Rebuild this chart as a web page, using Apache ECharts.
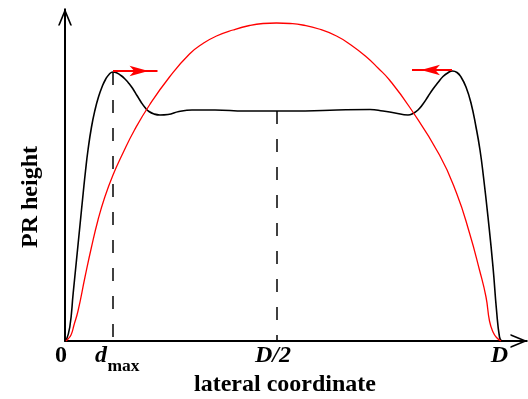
<!DOCTYPE html>
<html>
<head>
  <meta charset="utf-8">
  <title>PR height profile</title>
  <style type="text/css">
    html, body { margin: 0; padding: 0; background: #fff; }
    #main { width: 528px; height: 399px; }
  </style>
</head>
<body>
<div id="main"></div>
<script type="text/javascript" src="https://cdn.jsdelivr.net/npm/echarts@6/dist/echarts.min.js"></script>
<script type="text/javascript">
  // lateral coordinate (D = 434.5) and PR height
  var blackX = [1, 4.8, 8.2, 11.5, 14.8, 18.2, 20.5, 23, 26.5, 30, 33.5, 37, 40.5, 44, 48, 52, 56, 60, 64, 68, 72, 76, 80, 84, 89, 95, 103, 114, 127, 150, 180, 212, 240, 272, 305, 318, 330, 343, 348, 353, 358, 363, 368, 373, 378, 383, 387.5, 392, 396, 401, 406, 411, 415, 418.5, 423, 428, 431.5, 434.5, 436.5];
  var blackY = [0, 14, 48, 81, 114, 148, 170, 191, 214, 231, 244, 254, 261.5, 266.5, 269, 268, 265.5, 262, 257.5, 252, 245.5, 239, 233.5, 229.5, 227, 226, 226.5, 229.5, 231, 231, 230, 230, 230, 231, 231.5, 230, 228, 226, 227.5, 231, 237, 244.5, 252, 258.5, 264.5, 268.3, 270, 268.5, 264, 254, 238, 214, 191, 164, 124, 74, 31, 4, 0];

  var redX = [1, 3, 6, 9, 13, 20, 26.5, 33, 39.5, 48, 57.5, 69.5, 84.5, 104.5, 124.5, 138, 151.5, 168, 184.5, 198, 211.5, 225, 237.5, 254, 271.5, 286, 301.5, 313, 324.5, 344.5, 374.5, 391.5, 404.5, 414.5, 421, 424.5, 428, 431.5, 436];
  var redY = [0, 2, 6, 16, 30, 64, 94, 121, 143, 166, 187, 211, 236, 264, 287, 297.5, 305, 311, 315.5, 317.5, 318, 317.5, 316, 312, 305, 296, 284, 273, 261, 234, 186, 148, 108, 71, 44, 20, 9, 3.5, 0];

  var dmax = 48;
  var halfD = 212;
  var peakH = 269;
  var plateauH = 230;

  var tickValues = [0, 48, 212, 434.5];
  var tickLabels = ['{z|0}', '{d|d}', '{h|D/2}', '{e|D}'];

  // red arrows: [fromX, fromY, toX, toY]
  var arrowLeft = [48, 270, 92.5, 270];
  var arrowRight = [387, 271, 347, 271];

  function pairs(xs, ys) {
    var out = [];
    for (var i = 0; i < xs.length; i++) out.push([xs[i], ys[i]]);
    return out;
  }

  var serif = 'Liberation Serif';
  var chevron = 'path://M7,0 L14,17 L12.27,17 L7,4.2 L1.73,17 L0,17 Z M6,0 L8,0 L8,17 L6,17 Z';

  var myChart = echarts.init(document.getElementById('main'));

  var option = {
    backgroundColor: '#fff',
    animation: false,
    grid: { left: 65, right: 9, top: 17, bottom: 58, containLabel: false, outerBoundsMode: 'none' },
    xAxis: [
      {
        type: 'value',
        position: 'bottom',
        min: 0,
        max: 454,
        name: 'lateral coordinate',
        nameLocation: 'middle',
        nameGap: 30,
        nameTextStyle: {
          fontFamily: serif, fontWeight: 'bold', fontSize: 24, color: '#000',
          padding: [0, 14, 0, 0]
        },
        axisLine: {
          show: true,
          symbol: ['none', chevron],
          symbolSize: [14, 17],
          lineStyle: { color: '#000', width: 2 }
        },
        axisTick: { show: false },
        splitLine: { show: false },
        axisLabel: {
          customValues: tickValues,
          margin: 3,
          formatter: function (v) {
            var i = tickValues.indexOf(v);
            return i < 0 ? '' : tickLabels[i];
          },
          rich: {
            z: { fontFamily: serif, fontWeight: 'bold', fontSize: 24, color: '#000', padding: [0, 8, 0, 0] },
            d: { fontFamily: serif, fontWeight: 'bold', fontStyle: 'italic', fontSize: 24, color: '#000', padding: [0, 24, 0, 0] },
            h: { fontFamily: serif, fontWeight: 'bold', fontStyle: 'italic', fontSize: 24, color: '#000', padding: [0, 8, 0, 0] },
            e: { fontFamily: serif, fontWeight: 'bold', fontStyle: 'italic', fontSize: 24, color: '#000' }
          }
        }
      },
      {
        type: 'value',
        position: 'bottom',
        min: 0,
        max: 454,
        axisLine: { show: false },
        axisTick: { show: false },
        splitLine: { show: false },
        axisLabel: {
          customValues: [dmax],
          margin: 16,
          formatter: function () { return '{s|max}'; },
          rich: {
            s: { fontFamily: serif, fontWeight: 'bold', fontSize: 17.5, color: '#000', padding: [0, 0, 0, 21] }
          }
        }
      }
    ],
    yAxis: {
      type: 'value',
      min: 0,
      max: 324,
      name: 'PR height',
      nameLocation: 'middle',
      nameGap: 22,
      nameRotate: 90,
      nameTextStyle: {
        fontFamily: serif, fontWeight: 'bold', fontSize: 24, color: '#000',
        padding: [0, 36, 0, 0]
      },
      axisLine: {
        show: true,
        symbol: ['none', chevron],
        symbolSize: [14, 17],
        lineStyle: { color: '#000', width: 2 }
      },
      axisTick: { show: false },
      axisLabel: { show: false },
      splitLine: { show: false }
    },
    series: [
      {
        name: 'dmax line',
        type: 'line',
        data: [[dmax, peakH], [dmax, 0]],
        symbol: 'none',
        lineStyle: { color: '#000', width: 1.5, type: [13, 15] }
      },
      {
        name: 'half line',
        type: 'line',
        data: [[halfD, plateauH], [halfD, 0]],
        symbol: 'none',
        lineStyle: { color: '#000', width: 1.5, type: [13, 15] }
      },
      {
        name: 'PR profile',
        type: 'line',
        data: pairs(blackX, blackY),
        symbol: 'none',
        smooth: 0.5,
        lineStyle: { color: '#000', width: 1.6 }
      },
      {
        name: 'parabola',
        type: 'line',
        data: pairs(redX, redY),
        symbol: 'none',
        smooth: 0.5,
        lineStyle: { color: '#ff0000', width: 1.3 }
      },
      {
        name: 'arrow left',
        type: 'line',
        data: [[arrowLeft[0], arrowLeft[1]], [arrowLeft[2], arrowLeft[3]]],
        symbol: 'none',
        lineStyle: { color: '#ff0000', width: 2 }
      },
      {
        name: 'arrow right',
        type: 'line',
        data: [[arrowRight[0], arrowRight[1]], [arrowRight[2], arrowRight[3]]],
        symbol: 'none',
        lineStyle: { color: '#ff0000', width: 2 }
      },
      {
        name: 'arrow heads',
        type: 'scatter',
        symbol: 'arrow',
        itemStyle: { color: '#ff0000', opacity: 1 },
        data: [
          { value: [arrowLeft[2], arrowLeft[3]], symbolSize: [8, 19], symbolRotate: -90, symbolOffset: [-9, 0] },
          { value: [arrowRight[2], arrowRight[3]], symbolSize: [8, 19], symbolRotate: 90, symbolOffset: [9, 0] }
        ]
      }
    ]
  };

  myChart.setOption(option);
</script>
</body>
</html>
